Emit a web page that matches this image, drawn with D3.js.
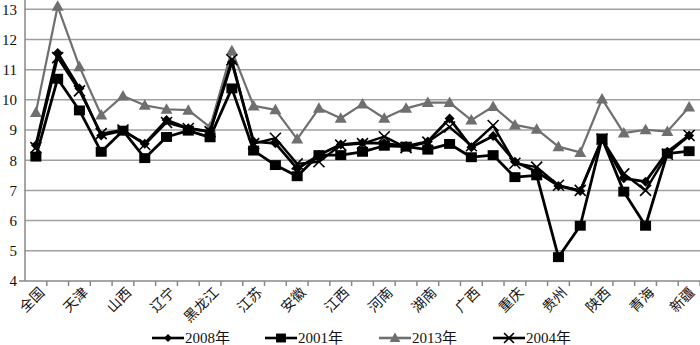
<!DOCTYPE html>
<html><head><meta charset="utf-8">
<script src="https://cdn.jsdelivr.net/npm/d3@7"></script>
<style>
body{margin:0;background:#fff;}
svg{display:block;font-family:"Liberation Serif","DejaVu Serif","Noto Sans CJK SC",serif;}
</style></head>
<body><svg id="c" width="700" height="345"></svg>
<script>
const categories = ["全国","北京","天津","河北","山西","内蒙古","辽宁","吉林","黑龙江","上海","江苏","浙江","安徽","福建","江西","山东","河南","湖北","湖南","广东","广西","海南","重庆","四川","贵州","云南","陕西","甘肃","青海","宁夏","新疆"];
const shownLabels = ["全国","天津","山西","辽宁","黑龙江","江苏","安徽","江西","河南","湖南","广西","重庆","贵州","陕西","青海","新疆"];
const yTicks = [4,5,6,7,8,9,10,11,12,13];
const s2008 = [8.5,11.55,10.38,8.82,8.98,8.55,9.33,9.06,8.95,11.25,8.62,8.56,7.72,8.17,8.52,8.58,8.56,8.47,8.62,9.38,8.43,8.8,7.95,7.62,7.15,6.98,8.7,7.4,7.29,8.28,8.82];
const s2001 = [8.12,10.7,9.65,8.28,8.98,8.07,8.77,8.98,8.76,10.38,8.32,7.84,7.47,8.17,8.17,8.28,8.48,8.45,8.35,8.54,8.1,8.17,7.44,7.5,4.79,5.83,8.72,6.96,5.83,8.22,8.3];
const s2013 = [9.58,13.1,11.1,9.5,10.13,9.82,9.69,9.66,9.1,11.63,9.8,9.67,8.7,9.72,9.39,9.86,9.39,9.72,9.91,9.91,9.33,9.78,9.17,9.03,8.45,8.26,10.03,8.9,9.01,8.95,9.76];
const s2004 = [8.42,11.4,10.3,8.88,9.0,8.52,9.25,9.05,8.95,11.33,8.55,8.73,7.88,7.95,8.5,8.55,8.78,8.42,8.6,9.1,8.48,9.15,7.9,7.77,7.17,7.0,8.7,7.55,7.0,8.2,8.82];
const seriesNames = ["2008年","2001年","2013年","2004年"];

const svg = d3.select("#c");
const pLeft = 25, pRight = 700, pTop = 9.3, pBottom = 281;
const x = d3.scaleBand().domain(categories).range([pLeft, pRight]);
const y = d3.scaleLinear().domain([4,13]).range([pBottom, pTop]);
const cx = d => x(d) + x.bandwidth()/2;

// gridlines
svg.append("g").selectAll("line").data(yTicks.filter(t=>t>4)).join("line")
  .attr("x1", pLeft).attr("x2", pRight).attr("y1", d=>y(d)).attr("y2", d=>y(d))
  .attr("stroke", "#a0a0a0").attr("stroke-width", 1.5);

// y axis
const ya = svg.append("g").attr("transform", `translate(${pLeft},0)`)
  .call(d3.axisLeft(y).tickValues(yTicks).tickSize(0).tickPadding(8));
ya.select(".domain").remove();
ya.selectAll("text").attr("font-size", 15).attr("fill", "#111").attr("font-family","Liberation Serif, serif");
svg.append("line").attr("x1", pLeft).attr("x2", pLeft).attr("y1", 0).attr("y2", pBottom)
  .attr("stroke", "#888").attr("stroke-width", 1.5);
svg.append("line").attr("x1", pLeft-6).attr("x2", pLeft).attr("y1", pBottom).attr("y2", pBottom)
  .attr("stroke", "#888").attr("stroke-width", 1.5);

// x axis
svg.append("line").attr("x1", pLeft).attr("x2", pRight).attr("y1", pBottom).attr("y2", pBottom)
  .attr("stroke", "#888").attr("stroke-width", 1.5);
svg.append("g").selectAll("line").data(categories).join("line")
  .attr("x1", d=>x(d)+x.bandwidth()).attr("x2", d=>x(d)+x.bandwidth())
  .attr("y1", pBottom).attr("y2", pBottom+5).attr("stroke", "#888").attr("stroke-width", 1.5);
svg.append("g").selectAll("text").data(shownLabels).join("text")
  .attr("transform", d=>`translate(${Math.min(cx(d)+6, 692)},${pBottom+9}) rotate(-45)`)
  .attr("text-anchor", "end").attr("dy", "0.35em")
  .attr("font-size", 14).attr("font-family", "Noto Sans CJK SC").attr("fill", "#111")
  .text(d=>d);

const line = d3.line().x((d,i)=>cx(categories[i])).y(d=>y(d));

const styles = {
  "2008年": {data:s2008, color:"#000", w:2.8, marker:"diamond"},
  "2001年": {data:s2001, color:"#000", w:2.8, marker:"square"},
  "2013年": {data:s2013, color:"#6f6f6f", w:2.2, marker:"triangle"},
  "2004年": {data:s2004, color:"#000", w:2.4, marker:"x"}
};

function drawMarker(g, type, color, px, py, scale=1) {
  if (type === "diamond") {
    const s = 5*scale;
    g.append("path").attr("d", `M${px},${py-s}L${px+s},${py}L${px},${py+s}L${px-s},${py}Z`).attr("fill", color);
  } else if (type === "square") {
    const s = 5.5*scale;
    g.append("rect").attr("x", px-s).attr("y", py-s*0.9).attr("width", 2*s).attr("height", 1.8*s).attr("fill", color);
  } else if (type === "triangle") {
    const s = 6*scale;
    g.append("path").attr("d", `M${px},${py-s}L${px+s},${py+s*0.75}L${px-s},${py+s*0.75}Z`).attr("fill", color);
  } else if (type === "x") {
    const s = 5.5*scale;
    g.append("path").attr("d", `M${px-s},${py-s}L${px+s},${py+s}M${px-s},${py+s}L${px+s},${py-s}`)
      .attr("stroke", color).attr("stroke-width", 1.6);
  }
}

["2013年","2001年","2008年","2004年"].forEach(name => {
  const st = styles[name];
  const g = svg.append("g");
  g.append("path").datum(st.data).attr("d", line).attr("fill", "none")
    .attr("stroke", st.color).attr("stroke-width", st.w).attr("stroke-linejoin", "round");
  st.data.forEach((v,i) => drawMarker(g, st.marker, st.color, cx(categories[i]), y(v)));
});

// legend
const legX = [152, 265, 379, 493];
const lg = svg.append("g");
seriesNames.forEach((name, i) => {
  const st = styles[name];
  const gy = 338;
  lg.append("line").attr("x1", legX[i]).attr("x2", legX[i]+32).attr("y1", gy).attr("y2", gy)
    .attr("stroke", st.color).attr("stroke-width", 2.6);
  drawMarker(lg, st.marker, st.color, legX[i]+16, gy, st.marker==="diamond"?0.8:0.9);
  lg.append("text").attr("x", legX[i]+33).attr("y", gy).attr("dy", "0.35em")
    .attr("font-size", 15).attr("fill", "#111").text(name);
});
</script></body></html>
